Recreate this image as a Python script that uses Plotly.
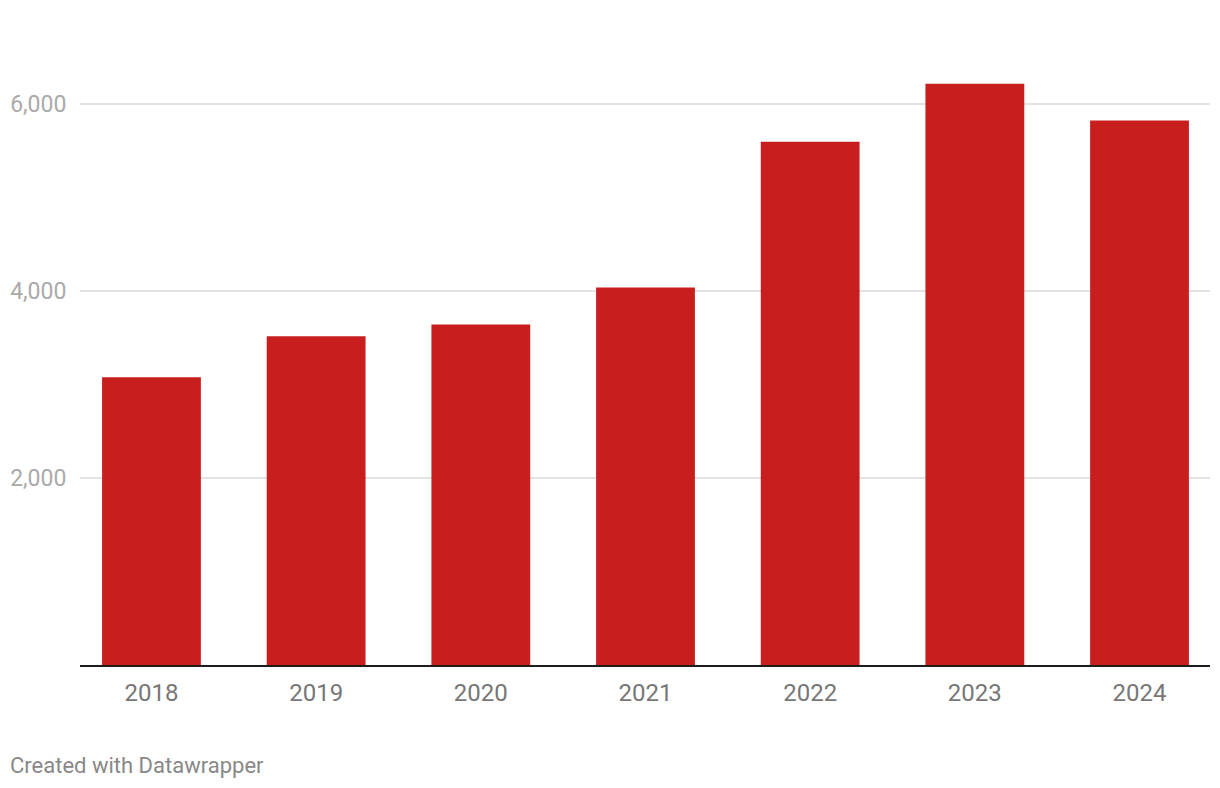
import plotly.graph_objects as go

years = ["2018", "2019", "2020", "2021", "2022", "2023", "2024"]
values = [3075, 3515, 3640, 4035, 5595, 6215, 5820]
y_ticks = [2000, 4000, 6000]
y_tick_labels = ["2,000", "4,000", "6,000"]

fig = go.Figure(go.Bar(x=years, y=values, marker=dict(color="#c91e1e", line=dict(width=0)),
                       hoverinfo="x+y"))

fig.update_layout(
    width=1220, height=788,
    margin=dict(l=72, r=18, t=49, b=131),
    paper_bgcolor="white", plot_bgcolor="white",
    bargap=0.4,
    showlegend=False,
    font=dict(family="Roboto", size=22, color="#777777"),
    xaxis=dict(type="category", range=[-0.434, 6.428], showgrid=False,
               showline=True, linecolor="#1d1d1d", linewidth=2,
               ticks="outside", ticklen=5, tickcolor="rgba(0,0,0,0)",
               tickfont=dict(size=24, color="#777777"), fixedrange=True,
               automargin=False),
    yaxis=dict(range=[0, 6500], tickvals=y_ticks, ticktext=y_tick_labels,
               showgrid=True, gridcolor="#e3e3e3", gridwidth=2,
               zeroline=False, showline=False,
               tickfont=dict(size=23, color="#aaaaaa"),
               ticks="outside", ticklen=8, tickcolor="rgba(0,0,0,0)", fixedrange=True,
               automargin=False),
)
fig.add_annotation(text="Created with Datawrapper", xref="paper", yref="paper",
                   x=(0 - 72) / 1130, y=-(757 - 657) / 608, xanchor="left", yanchor="middle",
                   showarrow=False, font=dict(family="Roboto", size=22, color="#888888"))

fig.write_html("out.html")
